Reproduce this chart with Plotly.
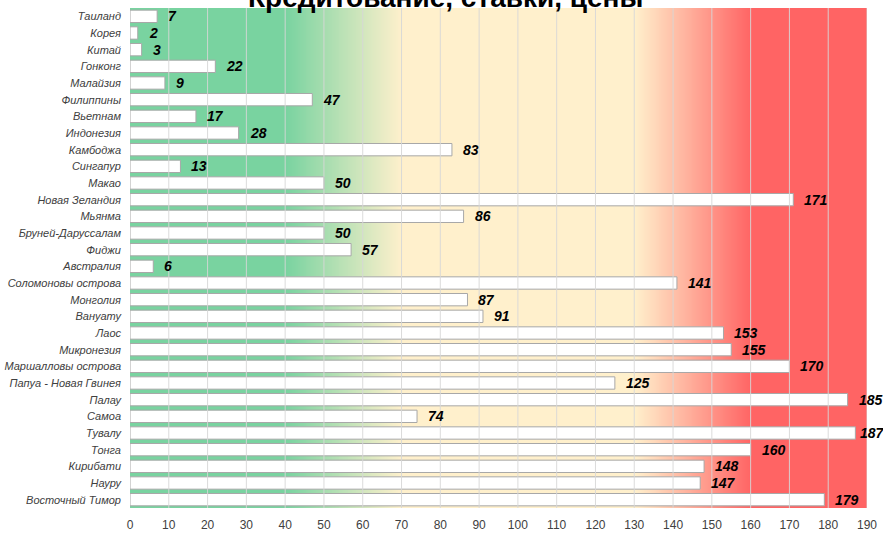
import numpy as np
import plotly.graph_objects as go

countries = [
    "Таиланд", "Корея", "Китай", "Гонконг", "Малайзия", "Филиппины", "Вьетнам",
    "Индонезия", "Камбоджа", "Сингапур", "Макао", "Новая Зеландия", "Мьянма",
    "Бруней-Даруссалам", "Фиджи", "Австралия", "Соломоновы острова", "Монголия",
    "Вануату", "Лаос", "Микронезия", "Маршалловы острова", "Папуа - Новая Гвинея",
    "Палау", "Самоа", "Тувалу", "Тонга", "Кирибати", "Науру", "Восточный Тимор",
]
ranks = [7, 2, 3, 22, 9, 47, 17, 28, 83, 13, 50, 171, 86, 50, 57, 6, 141, 87,
         91, 153, 155, 170, 125, 185, 74, 187, 160, 148, 147, 179]

x_max = 190
x_ticks = list(range(0, x_max + 1, 10))

# background zones: green -> cream -> red
green, cream, red = "#79d3a0", "#fff0cc", "#ff6464"
zone_stops = [(0, green), (40, green), (70, cream), (130, cream), (160, red), (190, red)]

W, H = 883, 536
M_L, M_R, M_T, M_B = 130, 16, 8, 28
px_per_unit = (W - M_L - M_R) / x_max

pos = list(range(len(countries)))
fig = go.Figure()

bg_x = np.linspace(0, x_max, 381)
fig.add_trace(go.Heatmap(
    x=bg_x, y=[-0.5, len(countries) - 0.5], z=[bg_x, bg_x],
    colorscale=[[v / x_max, c] for v, c in zone_stops],
    zmin=0, zmax=x_max, zsmooth="best", showscale=False, hoverinfo="skip",
))

# vertical gridlines over the background
gx, gy = [], []
for t in x_ticks[1:]:
    gx += [t, t, None]
    gy += [-0.5, len(countries) - 0.5, None]
fig.add_trace(go.Scatter(x=gx, y=gy, mode="lines",
                         line=dict(color="rgba(215,215,215,0.9)", width=1),
                         hoverinfo="skip", showlegend=False))

fig.add_trace(go.Bar(
    x=ranks, y=pos, orientation="h", width=0.74,
    marker=dict(color="white", line=dict(color="#a8a8a8", width=1)),
    showlegend=False,
))

# value labels to the right of each bar; squeezed in near the right edge
label_w = 24
for p, v in zip(pos, ranks):
    bar_end = M_L + v * px_per_unit
    gap = max(3, min(9, W - 1 - label_w - bar_end))
    fig.add_annotation(
        x=v, y=p, xref="x", yref="y", text=f"<b><i>{v}</i></b>",
        xanchor="left", yanchor="middle", xshift=gap, showarrow=False,
        font=dict(family="Arial", size=14, color="black"),
    )

fig.add_annotation(
    text="<b>Кредитование, ставки, цены</b>", xref="paper", yref="paper",
    x=(445 - M_L) / (W - M_L - M_R), y=1, xanchor="center", yanchor="bottom",
    yshift=-7, showarrow=False,
    font=dict(family="Arial", size=28, color="black"),
)

fig.update_layout(
    width=W, height=H,
    margin=dict(l=M_L, r=M_R, t=M_T, b=M_B),
    paper_bgcolor="white", plot_bgcolor="white",
    xaxis=dict(range=[0, x_max], tickvals=x_ticks, showgrid=False, zeroline=False,
               tickfont=dict(family="Arial", size=12, color="#404040"), ticks="",
               ticklabelstandoff=8, automargin=False),
    yaxis=dict(range=[len(countries) - 0.5, -0.5], tickvals=pos, ticktext=countries,
               showgrid=False, zeroline=False, ticks="", ticklabelstandoff=8,
               automargin=False,
               tickfont=dict(family="Arial", size=11, color="#404040", style="italic")),
)

fig.write_html("out.html")
